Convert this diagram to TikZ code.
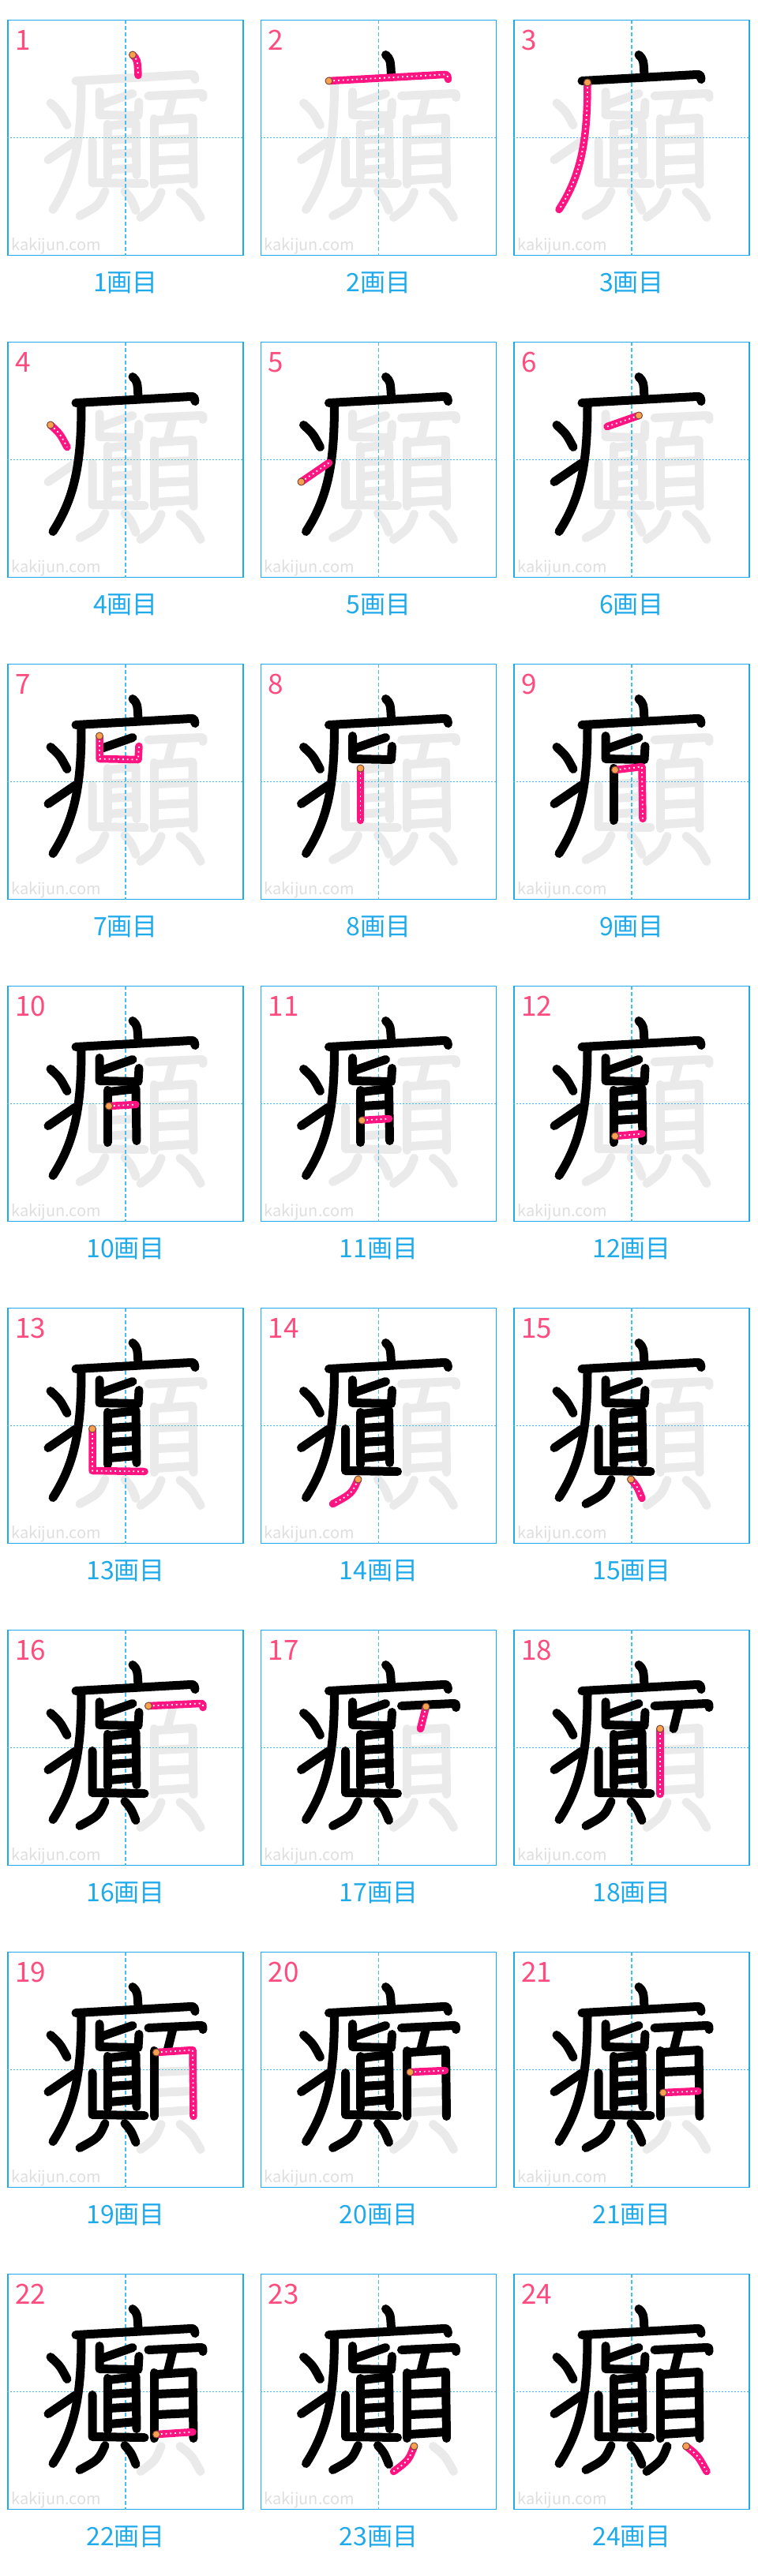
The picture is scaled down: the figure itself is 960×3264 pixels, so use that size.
\documentclass[tikz,border=0pt]{standalone}
\usepackage{fontspec}
\newfontfamily\jpfont{Noto Sans CJK JP}
\usetikzlibrary{positioning}

\definecolor{kakiblue}{RGB}{30,170,235}
\definecolor{kakiguide}{RGB}{70,190,240}
\definecolor{kakipink}{RGB}{255,20,130}
\definecolor{kakinum}{RGB}{255,75,125}
\definecolor{kakiorange}{RGB}{250,160,80}
\definecolor{kakirim}{RGB}{110,75,50}
\definecolor{kakigray}{RGB}{234,234,234}
\definecolor{kakimark}{RGB}{222,222,222}

\tikzstyle{panel} = [
    rectangle,
    minimum width=298pt,
    minimum height=298pt,
    inner sep=0pt,
    draw=kakiblue,
    line width=1.8pt
]
\tikzstyle{guidev} = [kakiguide, line width=1.4pt, dash pattern=on 5pt off 3pt]
\tikzstyle{guideh} = [kakiguide, line width=1.4pt, dash pattern=on 2pt off 2pt]
\tikzstyle{inkdone} = [black, line width=11pt, line cap=round, line join=round]
\tikzstyle{inknext} = [kakigray, line width=11pt, line cap=round, line join=round]
\tikzstyle{inknow} = [kakipink, line width=9.5pt, line cap=round, line join=round]
\tikzstyle{inkdots} = [white, line width=1.8pt, dash pattern=on 1.8pt off 4pt]
\tikzstyle{startdot} = [fill=kakiorange, draw=kakirim, line width=0.9pt]
\tikzstyle{stepnum} = [
    anchor=base west,
    inner sep=0pt,
    text=kakinum,
    font={\jpfont\fontsize{35}{35}\selectfont}
]
\tikzstyle{steplabel} = [
    inner sep=0pt,
    text=kakiblue,
    font={\jpfont\fontsize{32}{32}\selectfont}
]
\tikzstyle{watermark} = [
    anchor=base west,
    inner sep=0pt,
    text=kakimark,
    font={\jpfont\fontsize{20}{20}\selectfont}
]

% one stroke: number, start point, rest of the path (panel px, y down)
\newcommand{\defstroke}[3]{%
  \expandafter\def\csname kstart#1\endcsname{(#2)}%
  \expandafter\def\csname kpath#1\endcsname{(#2) #3}}
\newcommand{\drawstroke}[2]{%
  \expandafter\let\expandafter\kp\csname kpath#2\endcsname
  \draw [#1] \kp;}

\defstroke{1}{158,44}{.. controls (164,50) .. (165,70)}
\defstroke{2}{86,77}{-- (231,69) .. controls (236,69) .. (237,75)}
\defstroke{3}{93,79}{.. controls (93,150) and (86,195) .. (57,240)}
\defstroke{4}{54,105}{.. controls (66,116) .. (75,133)}
\defstroke{5}{51,177}{-- (86,153)}
\defstroke{6}{158,93}{-- (118,107)}
\defstroke{7}{116,91}{-- (116,120) -- (165,121) -- (166,104)}
\defstroke{8}{126,132}{-- (126,198)}
\defstroke{9}{128,134}{-- (162,130) -- (163,196)}
\defstroke{10}{128,152}{-- (162,150)}
\defstroke{11}{128,170}{-- (162,168)}
\defstroke{12}{128,190}{-- (162,187)}
\defstroke{13}{107,153}{-- (107,206) -- (173,207)}
\defstroke{14}{123,217}{.. controls (115,235) .. (91,248)}
\defstroke{15}{148,217}{.. controls (156,226) .. (162,241)}
\defstroke{16}{178,96}{-- (243,93) .. controls (247,93) .. (247,98)}
\defstroke{17}{209,97}{-- (202,125)}
\defstroke{18}{185,125}{-- (185,208)}
\defstroke{19}{188,127}{-- (234,124) -- (235,208)}
\defstroke{20}{189,152}{-- (233,150)}
\defstroke{21}{189,178}{-- (233,176)}
\defstroke{22}{188,203}{-- (234,200)}
\defstroke{23}{194,218}{.. controls (187,236) .. (168,250)}
\defstroke{24}{218,218}{.. controls (233,230) .. (244,250)}

\begin{document}
\begin{tikzpicture}[x=1pt, y=-1pt]
\useasboundingbox (0,0) rectangle (960,3264);

\foreach \n in {1,...,24} {
  \pgfmathtruncatemacro{\pcol}{mod(\n-1,3)}
  \pgfmathtruncatemacro{\prow}{(\n-1)/3}
  \begin{scope}[shift={(10+320.5*\pcol, 25.5+408*\prow)}]
    \node (frame\n) [panel] at (149,149) {};
    \node (mark\n) [watermark] at (4,292) {kakijun.com};
    % faint strokes still to come
    \foreach \k in {1,...,24} {
      \ifnum\k>\n \drawstroke{inknext}{\k} \fi
    }
    \draw [guidev] (frame\n.north) -- (frame\n.south);
    \draw [guideh] (frame\n.west) -- (frame\n.east);
    % strokes already written
    \foreach \k in {1,...,24} {
      \ifnum\k<\n \drawstroke{inkdone}{\k} \fi
    }
    % the stroke of this step
    \drawstroke{inknow}{\n}
    \drawstroke{inkdots}{\n}
    \expandafter\let\expandafter\ks\csname kstart\n\endcsname
    \draw [startdot] \ks circle [radius=4.5pt];
    \node (num\n) [stepnum] at (9,38) {\n};
    \node (label\n) [steplabel, below=34pt of frame\n.south, anchor=center] {\n{}画目};
  \end{scope}
}

\end{tikzpicture}
\end{document}
